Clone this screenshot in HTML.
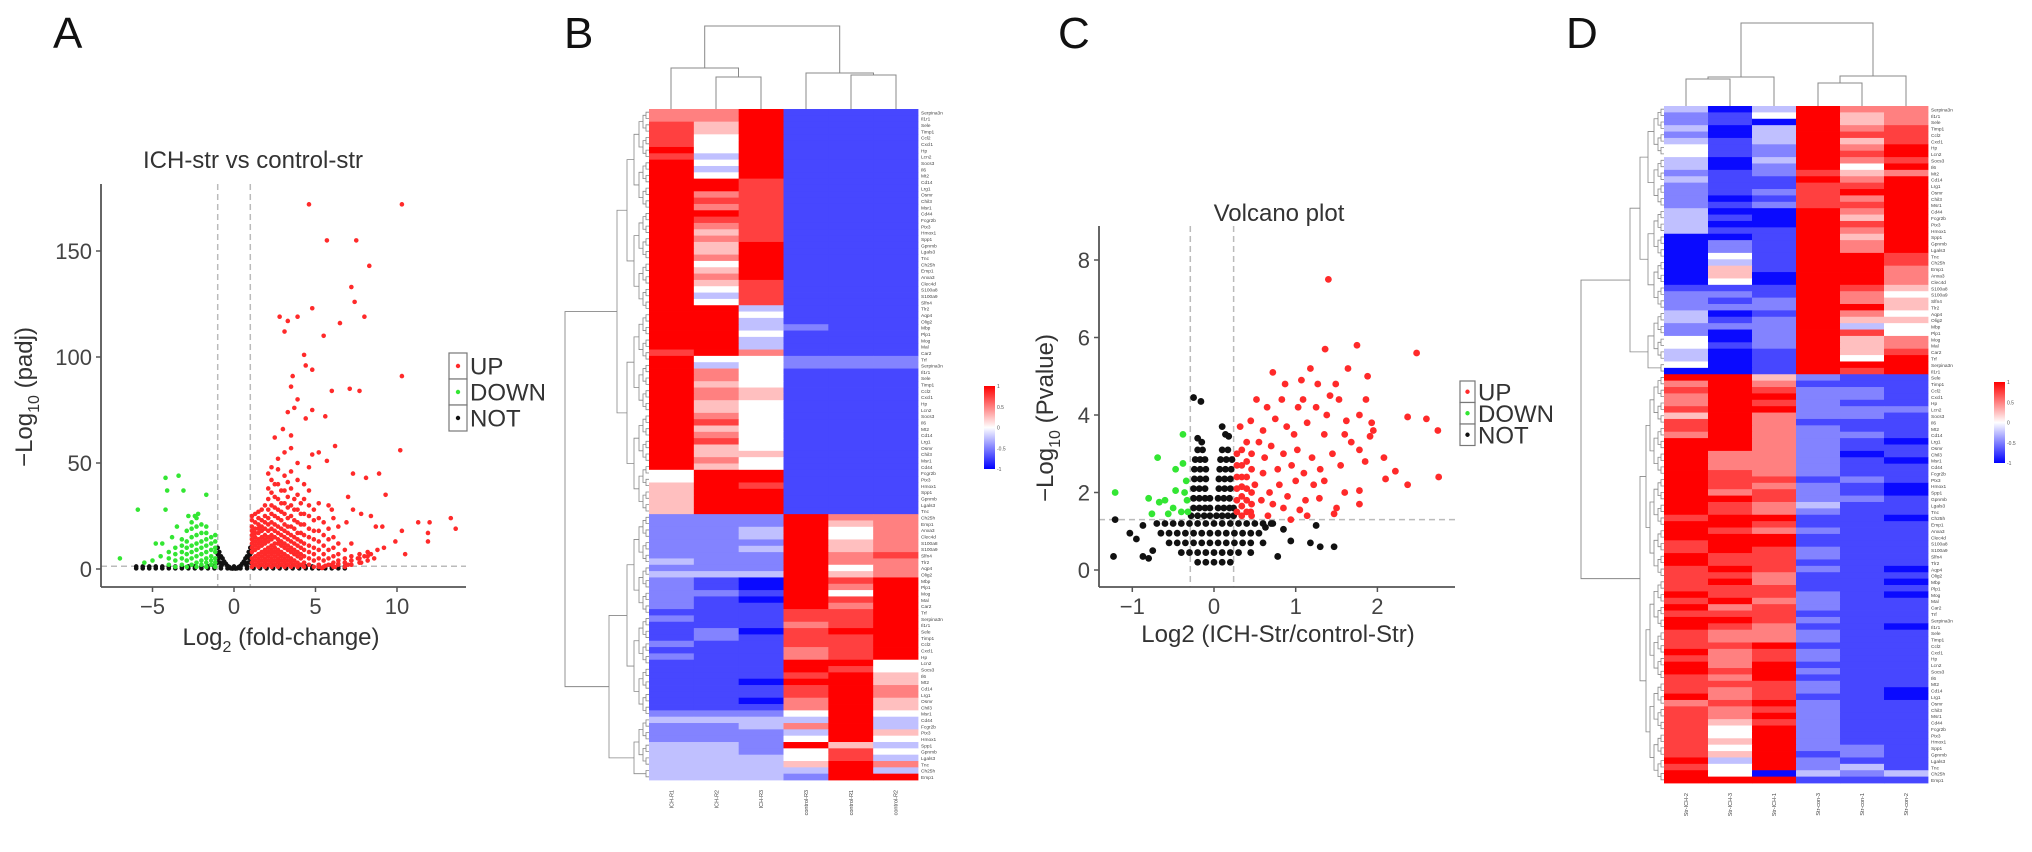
<!DOCTYPE html>
<html><head><meta charset="utf-8"><style>
html,body{margin:0;padding:0;background:#fff;}
svg{display:block;font-family:"Liberation Sans",sans-serif;}
</style></head><body>
<svg id="fig" width="2032" height="852" viewBox="0 0 2032 852">
<rect width="2032" height="852" fill="#fff"/>
<text x="53" y="48" font-size="44" fill="#111">A</text>
<text x="564" y="48" font-size="44" fill="#111">B</text>
<text x="1058" y="48" font-size="44" fill="#111">C</text>
<text x="1566" y="48" font-size="44" fill="#111">D</text>
<g id="pa"></g>
<g id="pc"></g>
<g id="pb"></g>
<g id="pd"></g>
</svg>
<script>
// ---------- Panel A data ----------
const aXTicks=[-5,0,5,10];
const aYTicks=[0,50,100,150];
const aUpOut=[4.6,172,10.3,172,5.7,155,7.5,155,8.3,143,7.2,133,7.4,126,4.8,123,2.8,119,3.3,117,3.9,119,3.1,112,6.5,116,8,119,5.5,110,4.3,101,4.4,96,4.8,94,10.3,91,3.6,91,3.5,86,6,84,7.1,85,7.7,84,3.9,80,3.7,76,3.3,74,4.8,75,5.6,72,4.4,71,6.2,58,3,66,2.5,62,3.5,63,10.2,56,4.8,54,5.2,55,5.7,51,7.3,45,8.1,43,8.9,45,9.3,35,11.3,22,12,22,11.9,17,13.3,24,13.6,19,10.3,18,11.9,13,10.5,7,9.9,13,8.7,20,9.1,20,8.4,25,7.8,26,7.3,28,6.9,22,6.4,20,6,28,7,34,5.8,30,5.2,1,5.6,1.5,6,2,6.4,2.5,6.8,3,7.2,4,7.6,5,8,6,8.4,7,8.8,9,9.2,10,5.4,0.5,6.2,1,7,2,7.8,3,8.6,5];
const aUpCols=[
[1.1,[1,3,5,8,10,12,14,16,18,20,23,25]],[1.3,[2,4,6,9,11,13,15,17,19,22,26]],
[1.5,[1,3,5,7,10,12,14,17,19,21,24,27]],[1.7,[2,4,6,8,11,13,15,18,20,23,28]],
[1.9,[1,3,5,7,9,12,14,16,19,22,25,30]],[2.1,[2,4,6,8,10,13,15,18,21,24,28,33,38,45]],
[2.3,[1,3,5,7,9,11,14,16,19,22,26,30,36,42,48]],[2.5,[2,4,6,8,10,12,15,18,21,25,29,34,40]],
[2.7,[1,3,5,7,9,12,14,17,20,24,28,33,40,47,52]],[2.9,[2,4,6,8,11,13,16,19,23,27,31,37]],
[3.1,[1,3,5,7,10,12,15,18,21,26,31,37,44,55]],[3.3,[2,4,6,9,11,14,17,20,24,29,34,41]],
[3.5,[1,3,5,8,10,13,16,20,25,30,38,46,57]],[3.7,[2,4,7,9,12,15,19,23,28,33]],
[3.9,[1,3,6,8,11,14,17,22,28,35,42,50]],[4.1,[2,5,7,10,13,17,21,26,31]],
[4.3,[1,3,6,9,12,16,21,26,33,40]],[4.6,[2,5,8,11,15,19,25,30,37,48]],
[4.9,[1,4,7,10,14,18,23,28]],[5.2,[2,5,9,13,18,24,31]],[5.5,[1,4,7,11,16,22]],
[5.8,[2,5,9,14,19]],[6.1,[1,3,6,10,15,24]],[6.4,[2,4,7,12]],[6.8,[1,3,5,9]],[7.2,[2,4,6,12]],[7.7,[3,5,7]],[8.2,[4,6,8]]];
const aDownOut=[-4.2,43,-3.4,44,-4.1,37,-3.1,37,-1.7,35,-5.9,28,-4.2,28,-2.8,25,-2.4,25,-7,5,-5.5,3,-4.8,12,-4.4,12,-3.8,15,-4.5,6,-5,4,-3.5,20,-2.2,26,-2.6,22];
const aDownCols=[[-3.2,[2,5,8,11,14]],[-2.9,[1,4,7,10,13,18]],[-2.6,[2,5,8,11,15,19]],[-2.3,[1,3,6,9,12,16,20,24]],[-2.0,[2,4,7,10,13,17,21]],[-1.7,[1,3,5,8,11,14,17,20]],[-1.4,[2,4,6,9,12,15]],[-1.15,[1,3,5,8,10,13,16]],[-3.6,[1,4,7,10]],[-4.0,[2,5,8]]];
const aNot=[-1,10,-0.9,8,-0.8,6,-0.7,5,-0.6,3.5,-0.5,2.5,-0.4,1.5,-0.3,1,0,0.5,0.3,1,0.4,1.5,0.5,2.5,0.6,3.5,0.7,5,0.8,6,0.9,8,1,10,-0.95,5,-0.85,3,0.95,5,0.85,3,-0.75,2,0.75,2,-1,7,1,7,-1,3,1,3,0.2,0.3,-0.2,0.3,-0.1,0.2,0.1,0.2];
const aNotBandX=[-6,-5.6,-5.2,-4.8,-4.4,-4,-3.6,-3.2,-2.8,-2.4,-2,-1.6,-1.2,-0.8,-0.4,0,0.4,0.8,1.2,1.6,2,2.4,2.8,3.2,3.6,4,4.4,4.8,5.2,5.6,6,6.4,6.8];
const aNotBandY=[0.3,1.2];
// ---------- Panel C data ----------
const cXTicks=[-1,0,1,2];
const cYTicks=[0,2,4,6,8];
const cUp=[1.40,7.5,2.48,5.6,1.36,5.7,1.75,5.8,1.18,5.2,1.64,5.2,1.88,5.0,0.72,5.1,0.87,4.8,1.07,4.9,1.27,4.8,1.49,4.8,1.42,4.5,0.52,4.4,0.83,4.4,1.09,4.4,1.53,4.4,1.86,4.4,0.65,4.2,1.03,4.2,1.25,4.2,1.78,4.0,2.37,3.95,2.6,3.9,2.74,3.6,1.93,3.8,1.62,3.85,1.38,4.0,1.14,3.8,0.89,3.7,0.45,3.85,0.32,3.7,1.6,3.5,1.91,3.45,1.78,3.1,2.08,2.9,2.22,2.55,2.1,2.35,2.37,2.2,2.75,2.4,1.78,1.7,1.78,2.05,1.47,1.45,1.14,1.4,1.29,1.85,0.94,1.3,0.72,1.7,0.45,1.5,
0.55,3.3,0.62,2.9,0.7,3.2,0.78,2.6,0.85,3.0,0.95,2.7,1.02,3.1,1.1,2.5,1.2,2.9,1.3,2.6,1.45,3.0,1.55,2.7,1.68,3.3,1.85,2.8,0.5,2.2,0.6,2.5,0.68,2.0,0.8,2.2,0.9,1.9,1.0,2.3,1.12,1.8,1.22,2.2,1.35,2.3,1.6,2.0,0.58,1.8,0.66,1.4,0.85,1.6,1.05,1.55,1.5,1.6,1.95,3.6,0.98,3.5,1.35,3.5,0.75,3.9,0.6,3.6];
const cUpCols=[[0.28,[1.5,1.8,2.1,2.4,2.7,3.0]],[0.34,[1.4,1.65,1.9,2.15,2.4,2.7,3.1]],[0.40,[1.5,1.8,2.1,2.4,2.8,3.3]],[0.46,[1.4,1.7,2.0,2.6,3.0]]];
const cDown=[-1.21,2.0,-0.69,2.9,-0.8,1.85,-0.76,1.45,-0.47,2.6,-0.38,2.75,-0.38,3.5,-0.47,2.05,-0.6,1.8,-0.34,2.3,-0.32,1.5,-0.56,1.45,-0.4,1.5,-0.67,1.75,-0.33,1.8,-0.36,2.0,-0.5,1.6];
const cNot=[-0.25,4.45,-0.16,4.35,0.1,3.7,-1.21,1.3,-1.23,0.35,-1.03,0.95,-0.87,1.15,-0.87,0.35,1.18,0.7,1.3,0.6,1.47,0.6,1.25,1.15,0.94,0.75,0.78,0.35,0.72,1.2,0.63,1.1,-0.75,0.5,-0.8,0.3,-0.2,3.4,0.18,3.45,-0.15,3.3,0.14,3.5,0.85,1.05,-0.95,0.8];
const cNotRows=[[3.1,[-0.2,-0.14,0.1,0.17]],[2.85,[-0.23,-0.17,-0.11,0.08,0.15,0.22]],[2.6,[-0.24,-0.17,-0.1,0.07,0.14,0.21]],[2.35,[-0.24,-0.17,-0.1,0.06,0.13,0.2]],[2.1,[-0.25,-0.18,-0.11,0.06,0.13,0.2]],[1.85,[-0.25,-0.18,-0.11,-0.05,0.05,0.12,0.19]],[1.6,[-0.25,-0.18,-0.11,-0.05,0.05,0.12,0.19,0.24]],[1.4,[-0.28,-0.2,-0.12,-0.05,0.03,0.1,0.17,0.24]],
[1.2,[-0.7,-0.6,-0.5,-0.4,-0.3,-0.2,-0.1,0,0.1,0.2,0.3,0.4,0.5,0.6,0.7]],[0.95,[-0.65,-0.55,-0.45,-0.35,-0.25,-0.15,-0.05,0.05,0.15,0.25,0.35,0.45,0.55]],[0.7,[-0.55,-0.45,-0.35,-0.25,-0.15,-0.05,0.05,0.15,0.25,0.35,0.45,0.6]],[0.45,[-0.4,-0.3,-0.2,-0.1,0,0.1,0.2,0.3,0.45]],[0.2,[-0.2,-0.1,0,0.1,0.2]]];
// ---------- Heatmap data (digits 0..8 => -1..1) ----------
const bUpper=["668111","668111","758111","758111","748111","748111","848111","738111","848111","838111","848111","887111","887111","867111","877111","867111","887111","877111","867111","857111","867111","858111","858111","868111","848111","858111","868111","857111","847111","837111","847111","883111","884111","883111","883211","884111","883111","883111","786111","844222","834222","864111","864111","854111","865111","865111","854111","854111","864111","874111","854111","864111","874111","854111","855111","864111","854111","488111","488111","587111","588111","588111","588111","588111"];
const bLower=["222866","222856","223846","223846","222856","223856","222867","322866","222846","333856","210878","210868","221848","210878","211868","111778","211778","111678","120788","121778","211778","111678","211678","111884","111874","111785","110885","111786","111786","110685","111685","222484","333383","223683","222385","222484","332853","332474","333473","333586","333383","333288"];
const dUpper=["303866","214856","210856","303867","203877","313857","412868","412878","303867","302848","212756","311868","211778","212788","201768","212778","300868","310858","300878","311868","001858","021868","021868","041887","031887","051886","050886","040886","111875","221864","212865","222885","301864","312855","222834","202874","402856","412856","301857","301848","401888","001878"];
const dLower=["885211","686111","787221","688221","687211","788222","586221","786111","786211","686221","886210","886211","866201","866210","866211","876211","877121","876210","867210","887221","876311","876211","788110","887111","876211","888111","788111","787211","877211","877111","787210","776111","786110","777111","877210","786211","867211","777111","887211","876110","766211","766211","778111","867211","767211","868111","878211","768111","777211","767210","867110","678211","767211","768211","757211","748211","748211","758211","748221","758121","838211","748231","840323","888111"];
const bCols=["ICH-R1","ICH-R2","ICH-R3","control-R3","control-R1","control-R2"];
const dCols=["Str-ICH-2","Str-ICH-3","Str-ICH-1","Str-con-3","Str-con-1","Str-con-2"];
const barTicks=["1","0.5","0","-0.5","-1"];
const geneNames=["Serpina3n","Il1r1","Sele","Timp1","Ccl2","Cxcl1","Hp","Lcn2","Socs3","Il6","Mt2","Cd14","Lrg1","Osmr","Chil3","Msr1","Cd44","Fcgr2b","Ptx3","Hmox1","Spp1","Gpnmb","Lgals3","Tnc","Ch25h","Emp1","Anxa3","Clec4d","S100a8","S100a9","Slfn4","Tlr2","Aqp4","Olig2","Mbp","Plp1","Mog","Mal","Car2","Trf"];

const NS="http://www.w3.org/2000/svg";
function mk(parent,tag,attrs,name,text){
  const e=document.createElementNS(NS,tag);
  for(const k in attrs) e.setAttribute(k,attrs[k]);
  
  
  if(text!==undefined) e.textContent=text;
  parent.appendChild(e); return e;
}

function volcano(g,o){
  const sx=v=>o.x0+o.kx*v, sy=v=>o.y0-o.ky*v;
  mk(g,'text',{x:o.titleX,y:o.titleY,'font-size':o.fs,'text-anchor':'middle',fill:'#333'},'chart-title',o.title);
  o.vlines.forEach(v=>mk(g,'line',{x1:sx(v),x2:sx(v),y1:o.top,y2:o.bottom,stroke:'#bbb','stroke-width':1.5,'stroke-dasharray':'6,4'},'threshold-line-vertical'));
  mk(g,'line',{x1:o.left,x2:o.right,y1:sy(o.hline),y2:sy(o.hline),stroke:'#bbb','stroke-width':1.5,'stroke-dasharray':'6,4'},'threshold-line-horizontal');
  const dot=(x,y,c,name)=>{mk(g,'circle',{cx:sx(x),cy:sy(y),r:o.r,fill:c},name);};
  o.series.forEach(s=>{
    for(let i=0;i<s.pairs.length;i+=2) dot(s.pairs[i],s.pairs[i+1],s.color,s.name);
    (s.cols||[]).forEach(cl=>cl[1].forEach(y=>dot(cl[0],y,s.color,s.name)));
    (s.rows||[]).forEach(rw=>rw[1].forEach(x=>dot(x,rw[0],s.color,s.name)));
    if(s.bandX) s.bandX.forEach(x=>s.bandY.forEach(y=>dot(x,y,s.color,s.name)));
  });
  mk(g,'line',{x1:o.left,x2:o.left,y1:o.top,y2:o.bottom,stroke:'#555','stroke-width':1.8},'y-axis-line');
  mk(g,'line',{x1:o.left,x2:o.right,y1:o.bottom,y2:o.bottom,stroke:'#555','stroke-width':1.8},'x-axis-line');
  o.yTicks.forEach(t=>{
    mk(g,'line',{x1:o.left-5,x2:o.left,y1:sy(t),y2:sy(t),stroke:'#555','stroke-width':1.5},'y-tick');
    mk(g,'text',{x:o.left-9,y:sy(t)+8,'font-size':o.tfs,'text-anchor':'end',fill:'#444'},'y-tick-label',String(t));
  });
  o.xTicks.forEach(t=>{
    mk(g,'line',{x1:sx(t),x2:sx(t),y1:o.bottom,y2:o.bottom+5,stroke:'#555','stroke-width':1.5},'x-tick');
    mk(g,'text',{x:sx(t),y:o.bottom+27,'font-size':o.tfs,'text-anchor':'middle',fill:'#444'},'x-tick-label',t<0?'\u2212'+Math.abs(t):String(t));
  });
  const xl=mk(g,'text',{x:o.xlX,y:o.xlY,'font-size':o.lfs,'text-anchor':'middle',fill:'#333'},'x-axis-title');
  o.xlabel(xl);
  const yl=mk(g,'text',{x:0,y:0,'font-size':o.lfs,'text-anchor':'middle',fill:'#333',transform:`translate(${o.ylX},${o.ylY}) rotate(-90)`},'y-axis-title');
  yl.innerHTML=o.ylabel;
  o.legend.forEach((l,i)=>{
    const y=o.legY+i*o.legH;
    mk(g,'rect',{x:o.legX,y:y,width:o.legW,height:o.legH,fill:'#fff',stroke:'#777','stroke-width':1.2},'legend-key');
    mk(g,'circle',{cx:o.legX+o.legW/2,cy:y+o.legH/2,r:2.2,fill:l[1]},'legend-marker');
    mk(g,'text',{x:o.legX+o.legW+3,y:y+o.legH/2+8.5,'font-size':o.legFs,fill:'#333'},'legend-entry',l[0]);
  });
}

volcano(document.getElementById('pa'),{x0:234,kx:16.3,y0:569,ky:2.12,left:101,right:466,top:184,bottom:587,r:2.3,
  title:'ICH-str vs control-str',titleX:253,titleY:168,fs:24,tfs:22,lfs:24,
  vlines:[-1,1],hline:1.3,xTicks:aXTicks,yTicks:aYTicks,
  series:[{name:'not-point',color:'#111',pairs:aNot,bandX:aNotBandX,bandY:aNotBandY},
          {name:'down-point',color:'#33e633',pairs:aDownOut,cols:aDownCols},
          {name:'up-point',color:'#ff2a2a',pairs:aUpOut,cols:aUpCols}],
  xlX:281,xlY:645,xlabel:e=>{e.innerHTML='Log<tspan font-size="16" dy="7">2</tspan><tspan dy="-7"> (fold-change)</tspan>';},
  ylX:32,ylY:397,ylabel:'\u2212Log<tspan font-size="16" dy="7">10</tspan><tspan dy="-7"> (padj)</tspan>',
  legend:[['UP','#ff2a2a'],['DOWN','#33e633'],['NOT','#111']],legX:449,legY:353,legH:26,legW:18,legFs:24});

volcano(document.getElementById('pc'),{x0:1214,kx:81.7,y0:570,ky:38.75,left:1099,right:1455,top:226,bottom:587,r:3.4,
  title:'Volcano plot',titleX:1279,titleY:221,fs:24,tfs:22,lfs:24,
  vlines:[-0.29,0.24],hline:1.3,xTicks:cXTicks,yTicks:cYTicks,
  series:[{name:'not-point',color:'#111',pairs:cNot,rows:cNotRows},
          {name:'down-point',color:'#33e633',pairs:cDown},
          {name:'up-point',color:'#ff2a2a',pairs:cUp,cols:cUpCols}],
  xlX:1278,xlY:642,xlabel:e=>{e.textContent='Log2 (ICH-Str/control-Str)';},
  ylX:1053,ylY:418,ylabel:'\u2212Log<tspan font-size="16" dy="7">10</tspan><tspan dy="-7"> (Pvalue)</tspan>',
  legend:[['UP','#ff2a2a'],['DOWN','#33e633'],['NOT','#111']],legX:1460,legY:381,legH:21.5,legW:15,legFs:24});

function col(d){
  const v=(d-4)/4;
  if(v>=0){const c=Math.round(255*(1-v));return `rgb(255,${c},${c})`;}
  const c=Math.round(255*(1+v)*0.95+10);return `rgb(${c},${c},255)`;
}

function pairUp(g,nodes,steps,hx){
  let lvl=0;
  while(nodes.length>1){
    const x=hx-steps[Math.min(lvl,steps.length-1)];
    const nx=[];
    for(let i=0;i<nodes.length;i+=2){
      if(i+1>=nodes.length){nx.push(nodes[i]);continue;}
      const a=nodes[i],b=nodes[i+1];
      mk(g,'path',{d:`M${a.x},${a.y}H${x}V${b.y}H${b.x}`,fill:'none',stroke:'#888','stroke-width':0.8},'row-dendrogram-branch');
      nx.push({x:x,y:(a.y+b.y)/2});
    }
    nodes=nx;lvl++;
  }
  return nodes[0];
}

function heatmap(g,o){
  const rows=o.upper.concat(o.lower);
  const rh=(o.bottom-o.top)/rows.length, cw=(o.right-o.left)/6;
  rows.forEach((r,i)=>{
    for(let j=0;j<6;j++){
      mk(g,'rect',{x:o.left+j*cw,y:o.top+i*rh,width:cw+0.4,height:rh+0.4,fill:col(+r[j])},'heatmap-cell');
    }
    mk(g,'text',{x:o.right+3,y:o.top+i*rh+rh*0.85,'font-size':4.8,fill:'#444'},'row-label',geneNames[i%geneNames.length]);
  });
  const mkNodes=(start,n)=>Array.from({length:n},(_,i)=>({x:o.left,y:o.top+(start+i+0.5)*rh}));
  const u=pairUp(g,mkNodes(0,o.upper.length),o.stepsU,o.left);
  const l=pairUp(g,mkNodes(o.upper.length,o.lower.length),o.stepsL,o.left);
  mk(g,'path',{d:`M${u.x},${u.y}H${o.rootX}V${l.y}H${l.x}`,fill:'none',stroke:'#888','stroke-width':0.9},'row-dendrogram-root');
  const cx=j=>o.left+(j+0.5)*cw;
  o.colTree.forEach(t=>{
    mk(g,'path',{d:`M${t[0]},${t[3]}V${t[2]}H${t[1]}V${t[4]}`,fill:'none',stroke:'#888','stroke-width':1},'column-dendrogram-branch');
  });
  for(let j=0;j<6;j++){
    mk(g,'text',{x:0,y:0,'font-size':5.5,fill:'#444','text-anchor':'end',transform:`translate(${cx(j)+2},${o.bottom+10}) rotate(-90)`},'column-label',o.cols[j]);
  }
  const gid='grad'+o.id;
  const defs=mk(g,'defs',{},'colorbar-defs');
  const lg=mk(defs,'linearGradient',{id:gid,x1:0,y1:0,x2:0,y2:1},'colorbar-gradient');
  [[0,'#ff0000'],[0.5,'#ffffff'],[1,'#0000ff']].forEach(s=>mk(lg,'stop',{offset:s[0],'stop-color':s[1]},'gradient-stop'));
  mk(g,'rect',{x:o.barX,y:o.barY,width:11,height:o.barH,fill:`url(#${gid})`},'colorbar');
  barTicks.forEach((t,i)=>mk(g,'text',{x:o.barX+13,y:o.barY+i*o.barH/4+2,'font-size':5,fill:'#555'},'colorbar-tick-label',t));
}

// column dendrogram lines: [xLeftEnd, xRightEnd, yJoin, yLeftBottom, yRightBottom]
heatmap(document.getElementById('pb'),{id:'b',left:649,right:918,top:109,bottom:780,upper:bUpper,lower:bLower,cols:bCols,
  stepsU:[3,6,10,15,22,32],stepsL:[3,6,10,15,22,40],rootX:565,barX:984,barY:386,barH:83,
  colTree:[[716,761,77,109,109],[671,738.5,68,109,77],[851,896,75,109,109],[806,873.5,73,109,75],[704.7,839.7,26,68,73]]});
heatmap(document.getElementById('pd'),{id:'d',left:1664,right:1928,top:106,bottom:783,upper:dUpper,lower:dLower,cols:dCols,
  stepsU:[3,6,10,16,24,34],stepsL:[3,6,10,14,18,24],rootX:1581,barX:1994,barY:382,barH:81,
  colTree:[[1686,1730,79,106,106],[1708,1774,77,79,106],[1818,1862,83,106,106],[1840,1906,76,83,106],[1741,1873,23,77,76]]});
</script>
</body></html>
